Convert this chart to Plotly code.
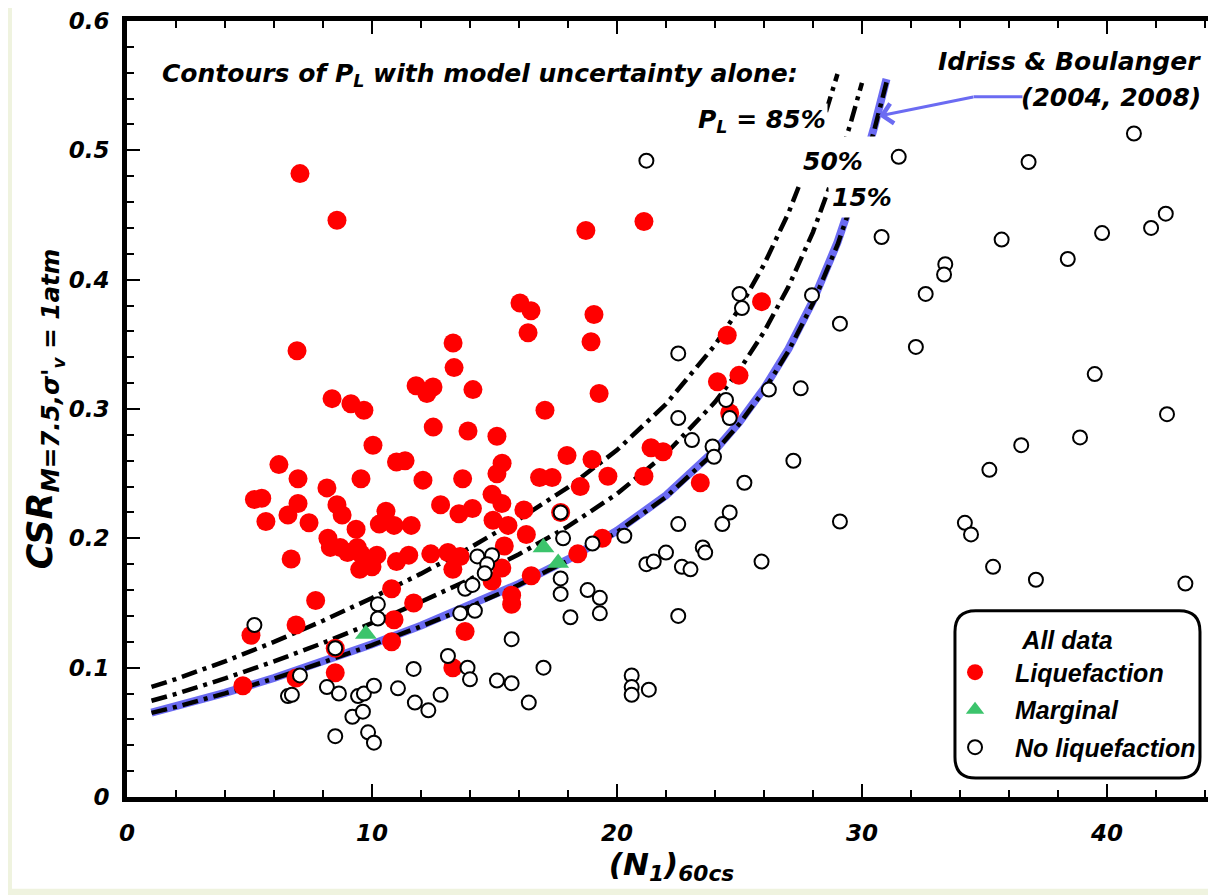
import plotly.graph_objects as go

# curvas (N1)60cs vs CSR
n_ib = [1, 2, 4, 6, 8, 10, 12, 14, 16, 18, 20, 22, 24, 25, 26, 27, 28, 29, 30, 30.5, 31]
csr_ib = [0.0653, 0.0700, 0.0805, 0.0920, 0.1046, 0.1181, 0.1325, 0.1479, 0.1648, 0.1837, 0.2058,
          0.2331, 0.2681, 0.2900, 0.3158, 0.3465, 0.3836, 0.4289, 0.4849, 0.5180, 0.5551]
csr_15 = [0.0650, 0.0697, 0.0801, 0.0916, 0.1041, 0.1175, 0.1319, 0.1472, 0.1640, 0.1828, 0.2048,
          0.2320, 0.2668, 0.2886, 0.3143, 0.3449, 0.3818, 0.4269, 0.4826, 0.5156, 0.5525]
n_50 = [1, 2, 4, 6, 8, 10, 12, 14, 16, 18, 20, 22, 24, 25, 26, 27, 28, 29, 29.5, 30]
csr_50 = [0.0744, 0.0797, 0.0917, 0.1048, 0.1191, 0.1345, 0.1509, 0.1684, 0.1877, 0.2092, 0.2344,
          0.2655, 0.3053, 0.3303, 0.3596, 0.3946, 0.4368, 0.4884, 0.5186, 0.5522]
n_85 = [1, 2, 4, 6, 8, 10, 12, 14, 16, 18, 20, 22, 24, 25, 26, 27, 28, 28.5, 29]
csr_85 = [0.0851, 0.0912, 0.1049, 0.1199, 0.1363, 0.1539, 0.1727, 0.1928, 0.2148, 0.2394, 0.2682,
          0.3038, 0.3494, 0.3780, 0.4116, 0.4516, 0.5000, 0.5280, 0.5590]

# casos de campo
liq_n = [7.06, 8.57, 21.1, 18.73, 16.04, 16.49, 16.37, 19.06, 18.94, 13.31, 13.35, 6.94, 25.9, 24.5,
         11.8, 12.24, 12.49, 14.12, 19.27, 8.37, 9.14, 9.67, 17.06, 24.98, 24.1, 24.6, 10.04, 12.5,
         13.92, 15.1, 17.96, 18.98, 21.39, 21.88, 15.31, 15.1, 11.0, 11.35, 12.08, 13.7, 16.84, 17.35,
         19.63, 21.1, 23.4, 18.5, 6.2, 6.98, 8.16, 9.55, 5.2, 5.5, 6.98, 6.57, 5.67, 7.43, 8.57, 8.78,
         9.35, 12.8, 13.55, 14.1, 10.57, 10.3, 10.9, 11.6, 14.9, 15.3, 14.94, 15.55, 16.2, 16.3, 8.2,
         8.3, 8.7, 9.0, 9.4, 9.55, 10.2, 9.5, 10.0, 11.0, 11.5, 12.4, 13.1, 13.6, 13.3, 6.7, 15.4, 15.3,
         14.9, 7.7, 10.8, 11.7, 6.9, 10.9, 10.8, 5.06, 13.8, 15.7, 15.7, 16.5, 18.4, 19.4, 4.73, 6.9,
         8.5, 8.5, 13.3, 17.7]
liq_csr = [0.482, 0.446, 0.445, 0.438, 0.382, 0.376, 0.359, 0.373, 0.352, 0.351, 0.332, 0.345, 0.383,
           0.357, 0.318, 0.312, 0.317, 0.315, 0.312, 0.308, 0.304, 0.299, 0.299, 0.326, 0.321, 0.297,
           0.272, 0.286, 0.283, 0.279, 0.264, 0.261, 0.270, 0.267, 0.258, 0.250, 0.259, 0.260, 0.245,
           0.246, 0.247, 0.247, 0.248, 0.248, 0.243, 0.240, 0.257, 0.246, 0.239, 0.246, 0.230, 0.231,
           0.227, 0.218, 0.213, 0.212, 0.226, 0.218, 0.207, 0.226, 0.219, 0.223, 0.221, 0.211, 0.210,
           0.210, 0.234, 0.227, 0.214, 0.210, 0.222, 0.203, 0.200, 0.193, 0.193, 0.189, 0.193, 0.188,
           0.187, 0.176, 0.178, 0.182, 0.187, 0.188, 0.189, 0.186, 0.176, 0.184, 0.194, 0.177, 0.167,
           0.152, 0.161, 0.150, 0.133, 0.137, 0.120, 0.125, 0.128, 0.156, 0.149, 0.171, 0.188, 0.200,
           0.086, 0.092, 0.115, 0.096, 0.100, 0.220]

marg_n = [9.75, 17.0, 17.6]
marg_csr = [0.126, 0.193, 0.181]

noliq_n = [5.2, 7.06, 6.57, 6.73, 8.16, 8.65, 9.43, 9.67, 10.08, 9.2, 9.63, 8.5, 9.84, 10.08, 11.06,
           11.7, 11.75, 12.3, 12.8, 13.1, 13.9, 14.0, 10.24, 10.24, 13.8, 14.1, 13.6, 14.2, 14.3, 14.9,
           14.7, 14.6, 15.7, 17.8, 19.0, 17.7, 17.7, 18.1, 18.8, 19.3, 19.3, 20.3, 22.5, 21.2, 21.5,
           22.0, 22.65, 23.0, 23.5, 23.6, 22.5, 15.1, 15.7, 16.4, 17.0, 20.6, 20.6, 20.6, 21.3, 8.5,
           17.7, 21.2, 22.5, 22.5, 23.06, 23.9, 23.96, 24.45, 24.6, 25.0, 25.1, 26.2, 27.5, 27.96, 29.1,
           27.2, 25.2, 24.6, 24.3, 29.1, 25.9, 31.5, 36.8, 41.1, 30.8, 35.7, 39.8, 41.8, 42.4, 38.4,
           33.4, 33.35, 32.6, 32.2, 39.5, 42.45, 38.9, 36.5, 35.2, 34.2, 34.45, 35.35, 37.1, 43.2]
noliq_csr = [0.133, 0.094, 0.078, 0.079, 0.085, 0.080, 0.078, 0.080, 0.086, 0.062, 0.066, 0.047, 0.050,
             0.042, 0.084, 0.099, 0.073, 0.067, 0.079, 0.109, 0.100, 0.091, 0.149, 0.138, 0.161, 0.164,
             0.142, 0.144, 0.186, 0.187, 0.180, 0.173, 0.122, 0.200, 0.196, 0.169, 0.157, 0.139, 0.160,
             0.154, 0.142, 0.202, 0.211, 0.180, 0.182, 0.189, 0.178, 0.176, 0.193, 0.189, 0.140, 0.090,
             0.088, 0.073, 0.100, 0.094, 0.085, 0.079, 0.083, 0.115, 0.220, 0.492, 0.343, 0.293, 0.276,
             0.271, 0.263, 0.307, 0.293, 0.389, 0.378, 0.315, 0.316, 0.388, 0.366, 0.260, 0.243, 0.220,
             0.211, 0.213, 0.182, 0.495, 0.491, 0.513, 0.433, 0.431, 0.436, 0.440, 0.451, 0.416, 0.412,
             0.404, 0.389, 0.348, 0.327, 0.296, 0.278, 0.272, 0.253, 0.212, 0.203, 0.178, 0.168, 0.165]

ANCHA = "DejaVu Sans, Verdana, sans-serif"
ARIAL = "Liberation Sans, Arial, sans-serif"
AZUL = "#6b6bf2"
dashdot = "16px,6px,4px,6px"


def f(family, size):
    return dict(family=family, size=size, color='black', weight='bold', style='italic')


fig = go.Figure()
fig.add_trace(go.Scatter(x=n_ib, y=csr_ib, mode='lines', line=dict(color=AZUL, width=8),
                         showlegend=False, hoverinfo='skip'))
fig.add_trace(go.Scatter(x=n_ib, y=csr_15, mode='lines', line=dict(color='black', width=4.5, dash=dashdot),
                         showlegend=False))
fig.add_trace(go.Scatter(x=n_50, y=csr_50, mode='lines', line=dict(color='black', width=4.5, dash=dashdot),
                         showlegend=False))
fig.add_trace(go.Scatter(x=n_85, y=csr_85, mode='lines', line=dict(color='black', width=4.5, dash=dashdot),
                         showlegend=False))

fig.add_trace(go.Scatter(x=liq_n, y=liq_csr, mode='markers', name='Liquefaction', legendgroup='a',
                         marker=dict(color='#ff0000', size=19, line=dict(width=0))))
fig.add_trace(go.Scatter(x=marg_n, y=marg_csr, mode='markers', name='Marginal', legendgroup='b',
                         marker=dict(color='#3cc46c', size=19, symbol='triangle-up', line=dict(width=0))))
fig.add_trace(go.Scatter(x=noliq_n, y=noliq_csr, mode='markers', name='No liquefaction', legendgroup='c',
                         marker=dict(color='white', size=14, line=dict(color='black', width=2))))

fnt = f(ANCHA, 25)
fig.add_annotation(x=1.35, y=0.558, xref='x', yref='y', xanchor='left', showarrow=False,
                   text="Contours of P<sub>L</sub> with model uncertainty alone:", font=fnt)
fig.add_annotation(x=43.9, y=0.569, xref='x', yref='y', xanchor='right', showarrow=False,
                   text="Idriss & Boulanger", font=fnt)
fig.add_annotation(x=43.9, y=0.541, xref='x', yref='y', xanchor='right', showarrow=False,
                   text="(2004, 2008)", font=fnt)
fig.add_annotation(x=28.6, y=0.523, xref='x', yref='y', xanchor='right', showarrow=False,
                   text="P<sub>L</sub> = 85%", font=fnt, bgcolor='white')
# las etiquetas tapan las curvas con un recuadro blanco algo mayor que el texto
fig.add_annotation(x=28.8, y=0.492, xref='x', yref='y', showarrow=False, width=84, height=46,
                   text="50%", font=fnt, bgcolor='white')
fig.add_annotation(x=30.0, y=0.464, xref='x', yref='y', showarrow=False, width=64, height=38,
                   text="15%", font=fnt, bgcolor='white')
fig.add_annotation(x=30.7, y=0.5265, ax=34.6, ay=0.5415, xref='x', yref='y', axref='x', ayref='y',
                   text='', showarrow=True, arrowhead=4, arrowsize=1.3, arrowwidth=3, arrowcolor=AZUL)
fig.add_shape(type='line', xref='x', yref='y', x0=34.55, x1=36.55, y0=0.5415, y1=0.5415,
              line=dict(color=AZUL, width=3))

# fondo blanco sobre la diapositiva
fig.add_shape(type='rect', xref='paper', yref='paper', x0=-0.1056, x1=1.02, y0=-0.1181, y1=1.03,
              fillcolor='white', line=dict(width=0), layer='below')

# recuadro redondeado de la leyenda
x0, x1, y0, y1 = 0.7603, 0.9853, 0.0244, 0.2400
rx, ry = 0.0190, 0.0270
path = (f"M {x0+rx},{y0} L {x1-rx},{y0} Q {x1},{y0} {x1},{y0+ry} L {x1},{y1-ry} "
        f"Q {x1},{y1} {x1-rx},{y1} L {x0+rx},{y1} Q {x0},{y1} {x0},{y1-ry} "
        f"L {x0},{y0+ry} Q {x0},{y0} {x0+rx},{y0} Z")
fig.add_shape(type='path', path=path, xref='paper', yref='paper', fillcolor='white',
              line=dict(color='black', width=3), layer='above')

tickfont = f(ANCHA, 23)
fig.update_layout(
    width=1208, height=887,
    margin=dict(l=119, r=0, t=10, b=98),
    paper_bgcolor='#eff3df', plot_bgcolor='white',
    showlegend=True,
    legend=dict(x=0.742, y=0.232, xanchor='left', yanchor='top', bgcolor='rgba(0,0,0,0)',
                font=f(ARIAL, 25), itemwidth=70, tracegroupgap=2,
                title=dict(text='All data', side='top center', font=f(ARIAL, 25))),
    xaxis=dict(range=[0, 44.45], dtick=10, tick0=0, ticks='inside', ticklen=13, tickwidth=2,
               tickcolor='black', showline=True, linewidth=5, linecolor='black', mirror='ticks',
               showgrid=False, zeroline=False, tickfont=tickfont, ticklabelstandoff=11,
               minor=dict(dtick=2, ticks='inside', ticklen=7, tickwidth=2, tickcolor='black', showgrid=False),
               title=dict(text="(N<sub>1</sub>)<sub>60cs</sub>", standoff=6, font=f(ANCHA, 31))),
    yaxis=dict(range=[0, 0.6], dtick=0.1, tick0=0, ticks='inside', ticklen=13, tickwidth=2,
               tickcolor='black', showline=True, linewidth=5, linecolor='black', mirror=False,
               showgrid=False, zeroline=False, tickfont=tickfont, ticklabelstandoff=8,
               ticklabeloverflow='allow', tickformat='.1~f',
               minor=dict(dtick=0.02, ticks='inside', ticklen=7, tickwidth=2, tickcolor='black', showgrid=False),
               title=dict(text="CSR<sub>M=7.5,σ'<sub>v</sub> = 1atm</sub>", standoff=5, font=f(ANCHA, 35))),
    yaxis2=dict(range=[0, 0.6], dtick=0.1, overlaying='y', side='right', ticks='inside', ticklen=13,
                tickwidth=2, tickcolor='black', showline=False, showgrid=False, zeroline=False,
                showticklabels=False),
)

fig.write_html("out.html")
